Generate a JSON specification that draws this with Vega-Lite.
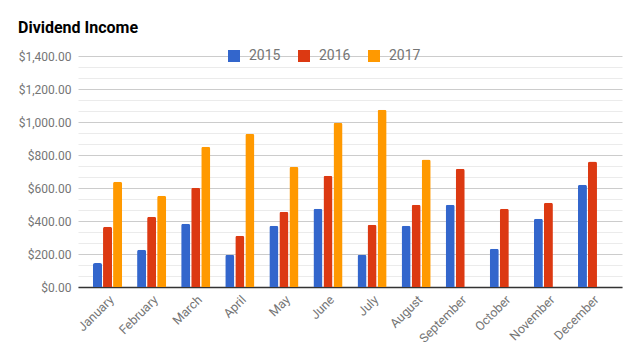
{
  "$schema": "https://vega.github.io/schema/vega-lite/v6.json",
  "width": 544,
  "height": 231,
  "autosize": {"type": "none"},
  "padding": {"left": 78, "top": 56, "right": 19, "bottom": 71},
  "background": "white",
  "title": {
    "text": "Dividend Income",
    "anchor": "start",
    "frame": "group",
    "dx": -60,
    "offset": 0,
    "baseline": "alphabetic",
    "font": "Roboto",
    "fontSize": 16,
    "fontWeight": "bold",
    "color": "#000000"
  },
  "data": {
    "values": [
      {"month": "January", "year": "2015", "value": 145},
      {"month": "January", "year": "2016", "value": 365},
      {"month": "January", "year": "2017", "value": 638},
      {"month": "February", "year": "2015", "value": 226},
      {"month": "February", "year": "2016", "value": 426},
      {"month": "February", "year": "2017", "value": 553},
      {"month": "March", "year": "2015", "value": 383},
      {"month": "March", "year": "2016", "value": 602},
      {"month": "March", "year": "2017", "value": 850},
      {"month": "April", "year": "2015", "value": 196},
      {"month": "April", "year": "2016", "value": 311},
      {"month": "April", "year": "2017", "value": 929},
      {"month": "May", "year": "2015", "value": 371},
      {"month": "May", "year": "2016", "value": 456},
      {"month": "May", "year": "2017", "value": 729},
      {"month": "June", "year": "2015", "value": 475},
      {"month": "June", "year": "2016", "value": 675},
      {"month": "June", "year": "2017", "value": 996},
      {"month": "July", "year": "2015", "value": 196},
      {"month": "July", "year": "2016", "value": 378},
      {"month": "July", "year": "2017", "value": 1075},
      {"month": "August", "year": "2015", "value": 371},
      {"month": "August", "year": "2016", "value": 499},
      {"month": "August", "year": "2017", "value": 772},
      {"month": "September", "year": "2015", "value": 499},
      {"month": "September", "year": "2016", "value": 717},
      {"month": "October", "year": "2015", "value": 232},
      {"month": "October", "year": "2016", "value": 475},
      {"month": "November", "year": "2015", "value": 414},
      {"month": "November", "year": "2016", "value": 511},
      {"month": "December", "year": "2015", "value": 620},
      {"month": "December", "year": "2016", "value": 760}
    ]
  },
  "mark": {"type": "bar", "cornerRadiusTopLeft": 2, "cornerRadiusTopRight": 2},
  "encoding": {
    "x": {
      "field": "month",
      "type": "nominal",
      "sort": ["January","February","March","April","May","June","July","August","September","October","November","December"],
      "scale": {"paddingInner": 0.34, "paddingOuter": 0.34},
      "axis": {
        "title": null,
        "labelAngle": -45,
        "labelAlign": "right",
        "labelBaseline": "top",
        "labelFont": "Roboto",
        "labelFontSize": 12.5,
        "labelColor": "#757575",
        "labelPadding": 6,
        "ticks": false,
        "domainColor": "#333333",
        "domainWidth": 1.3,
        "grid": false
      }
    },
    "xOffset": {
      "field": "year",
      "type": "nominal",
      "scale": {"paddingInner": 0.1, "paddingOuter": 0}
    },
    "y": {
      "field": "value",
      "type": "quantitative",
      "scale": {"domain": [0, 1400], "nice": false},
      "axis": {
        "title": null,
        "values": [0, 66.6667, 133.3333, 200, 266.6667, 333.3333, 400, 466.6667, 533.3333, 600, 666.6667, 733.3333, 800, 866.6667, 933.3333, 1000, 1066.6667, 1133.3333, 1200, 1266.6667, 1333.3333, 1400],
        "labelExpr": "abs(datum.value/200 - round(datum.value/200)) < 0.01 ? format(datum.value, '$,.2f') : ''",
        "labelFont": "Roboto",
        "labelFontSize": 12,
        "labelColor": "#757575",
        "labelPadding": 7,
        "ticks": false,
        "domain": false,
        "gridColor": {"condition": {"test": "abs(datum.value/200 - round(datum.value/200)) < 0.01", "value": "#cccccc"}, "value": "#ebebeb"},
        "gridWidth": 1
      }
    },
    "color": {
      "field": "year",
      "type": "nominal",
      "scale": {"domain": ["2015", "2016", "2017"], "range": ["#3366cc", "#dc3912", "#ff9900"]},
      "legend": {
        "title": null,
        "orient": "none",
        "direction": "horizontal",
        "legendX": 149,
        "legendY": -7,
        "symbolType": "square",
        "symbolSize": 144,
        "symbolStrokeWidth": 0,
        "symbolOpacity": 1,
        "labelFont": "Roboto",
        "labelFontSize": 14,
        "labelColor": "#757575",
        "labelOffset": 8,
        "columnPadding": 16
      }
    }
  },
  "config": {"view": {"stroke": null}}
}
